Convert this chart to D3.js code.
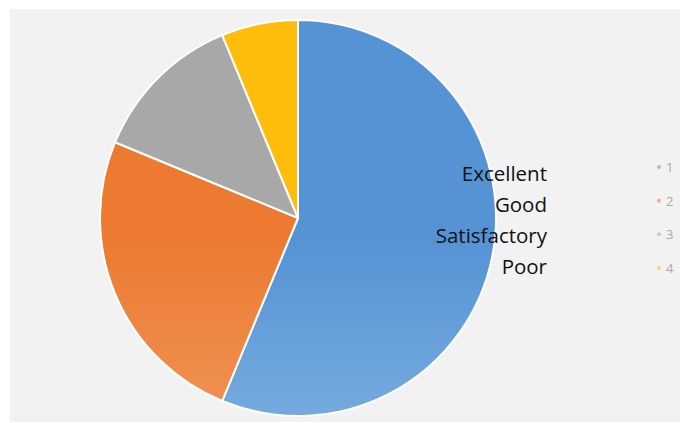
<!DOCTYPE html>
<html><head><meta charset="utf-8">
<script src="https://cdn.jsdelivr.net/npm/d3@7/dist/d3.min.js"></script>
<style>html,body{margin:0;padding:0;background:#fff;}svg{display:block;}</style>
</head><body>
<svg id="chart" width="680" height="423"></svg>
<script>
const categories = ["Excellent", "Good", "Satisfactory", "Poor"];
const values = [9, 4, 2, 1];
const legendLabels = ["1", "2", "3", "4"];
const topColors = ["#5593d4", "#ec7a30", "#a8a8a8", "#fdbd0a"];
const bottomColors = ["#9cc6ec", "#f4ae80", "#c4c4c4", "#ffd04a"];

const svg = d3.select("#chart");
svg.append("rect").attr("x", 10).attr("y", 9).attr("width", 670).attr("height", 413).attr("fill", "#f2f2f2");

const cx = 298, cy = 218, r = 198;
const defs = svg.append("defs");
categories.forEach((c, i) => {
  const g = defs.append("linearGradient").attr("id", "g" + i)
    .attr("gradientUnits", "userSpaceOnUse")
    .attr("x1", 0).attr("y1", cy - r).attr("x2", 0).attr("y2", cy + r);
  g.append("stop").attr("offset", "0%").attr("stop-color", topColors[i]);
  g.append("stop").attr("offset", "100%").attr("stop-color", bottomColors[i]);
});

const pie = d3.pie().sort(null).value(d => d);
const arc = d3.arc().innerRadius(0).outerRadius(r);
const gPie = svg.append("g").attr("transform", `translate(${cx},${cy})`);
gPie.selectAll("path").data(pie(values)).join("path")
  .attr("d", arc)
  .attr("fill", (d, i) => `url(#g${i})`)
  .attr("stroke", "#ffffff").attr("stroke-width", 2).attr("stroke-linejoin", "round");

// category labels
const yLab = d3.scalePoint().domain(categories).range([181, 274]);
svg.append("g").selectAll("text").data(categories).join("text")
  .attr("x", 547).attr("y", d => yLab(d))
  .attr("text-anchor", "end")
  .attr("font-family", "'Open Sans', 'Noto Sans', sans-serif")
  .attr("font-size", 20.5).attr("fill", "#111")
  .text(d => d);

// legend
const yLeg = d3.scalePoint().domain(legendLabels).range([167, 268]);
const leg = svg.append("g");
leg.selectAll("circle").data(legendLabels).join("circle")
  .attr("cx", 659).attr("cy", d => yLeg(d))
  .attr("r", 2)
  .attr("fill", (d, i) => topColors[i]).attr("opacity", 0.55);
leg.selectAll("text").data(legendLabels).join("text")
  .attr("x", 666).attr("y", d => yLeg(d) + 5)
  .attr("font-family", "'Open Sans', sans-serif")
  .attr("font-size", 13).attr("fill", "#a8a8a8")
  .text(d => d);
</script>
</body></html>
